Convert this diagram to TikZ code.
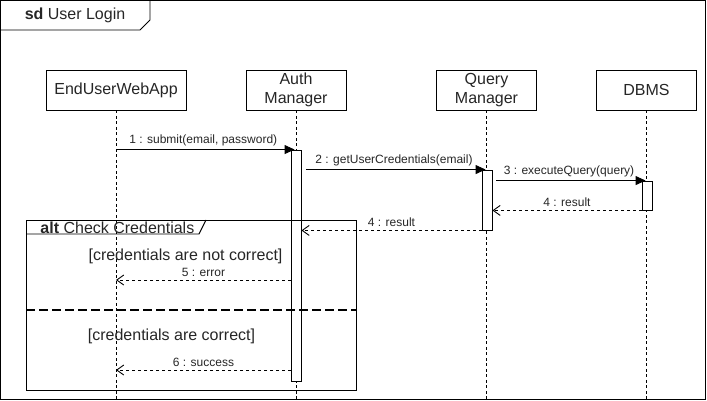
\documentclass[tikz,border=0pt]{standalone}
\usepackage{fontspec}
\setmainfont{Liberation Sans}
\usetikzlibrary{arrows.meta}
\begin{document}
\begin{tikzpicture}[x=1pt,y=-1pt,line width=0.9pt,
  head/.style={draw,fill=white,minimum height=40pt,inner sep=0pt,align=center,font=\fontsize{16}{19.5}\selectfont},
  lifeline/.style={line width=0.9pt,dash pattern=on 3pt off 2.5pt},
  actbar/.style={draw,fill=white,minimum width=10pt,inner sep=0pt},
  sync/.style={-{Triangle[length=10pt,width=9pt]},shorten >=-4pt},
  reply/.style={-{Straight Barb[length=7pt,width=10pt]},dash pattern=on 3pt off 3pt},
  mlabel/.style={above,inner sep=3pt,text=black!85,font=\fontsize{12}{14}\selectfont},
  txt/.style={inner sep=0pt,text=black!85,font=\fontsize{16}{19}\selectfont},
  sepline/.style={line width=2pt,dash pattern=on 9pt off 4pt}]
\useasboundingbox (0,0) rectangle (707,401);
% outer frame
\draw (0.5,0.5) rectangle (705.5,399.5);
\draw (0.5,30) -- (140,30) -- (150,20) -- (150,0.5);
\node[txt] (title) at (75,15) {\textbf{sd} User Login};
% heads
\node[head,text=black!85,minimum width=140pt] (euw) at (116,90) {EndUserWebApp};
\node[head,text=black!85,minimum width=100pt] (auth) at (296,90) {Auth\\Manager};
\node[head,text=black!85,minimum width=100pt] (qm) at (486.5,90) {Query\\Manager};
\node[head,text=black!85,minimum width=100pt] (dbms) at (646.5,90) {DBMS};
% lifeline ends
\coordinate (euwEnd) at (116,399.5);
\coordinate (authEnd) at (296,399.5);
\coordinate (qmEnd) at (486.5,399.5);
\coordinate (dbmsEnd) at (646.5,399.5);
\draw[lifeline] (euw.south) -- (euwEnd);
\draw[lifeline] (auth.south) -- (authEnd);
\draw[lifeline] (qm.south) -- (qmEnd);
\draw[lifeline] (dbms.south) -- (dbmsEnd);
% activation bars
\node[actbar,minimum height=231pt] (actA) at (296,265.5) {};
\node[actbar,minimum height=60pt] (actQ) at (487,200) {};
\node[actbar,minimum height=29pt] (actD) at (647,195.5) {};
% messages
\draw[sync] (euw.south |- actA.north) -- (actA.north west)
  node[mlabel,midway] {1 : submit(email, password)};
\draw[sync] ([xshift=5pt]actA.east |- actQ.north) -- (actQ.north west)
  node[mlabel,midway] {2 : getUserCredentials(email)};
\draw[sync] ([xshift=4pt]actQ.east |- actD.north) -- (actD.north west)
  node[mlabel,midway] {3 : executeQuery(query)};
\draw[reply] (actD.south west) -- (actQ.east |- actD.south)
  node[mlabel,midway] {4 : result};
\draw[reply] (actQ.south west) -- (actA.east |- actQ.south)
  node[mlabel,midway] {4 : result};
% alt fragment
\coordinate (r5) at (291,280);
\coordinate (r6) at (291,370);
\draw[reply] (r5) -- (euw.south |- r5) node[mlabel,midway] {5 : error};
\draw[reply] (r6) -- (euw.south |- r6) node[mlabel,midway] {6 : success};
\draw (26,220) rectangle (356,390.5);
\draw (26,234) -- (199,234) -- (206,220);
\node[txt,anchor=west] (altlbl) at (40,227.5) {\textbf{alt} Check Credentials};
\node[txt] (g1) at (185.5,256.5) {[credentials are not correct]};
\draw[sepline] (26,309.5) -- (356,309.5);
\node[txt] (g2) at (171.5,336) {[credentials are correct]};
\end{tikzpicture}
\end{document}
